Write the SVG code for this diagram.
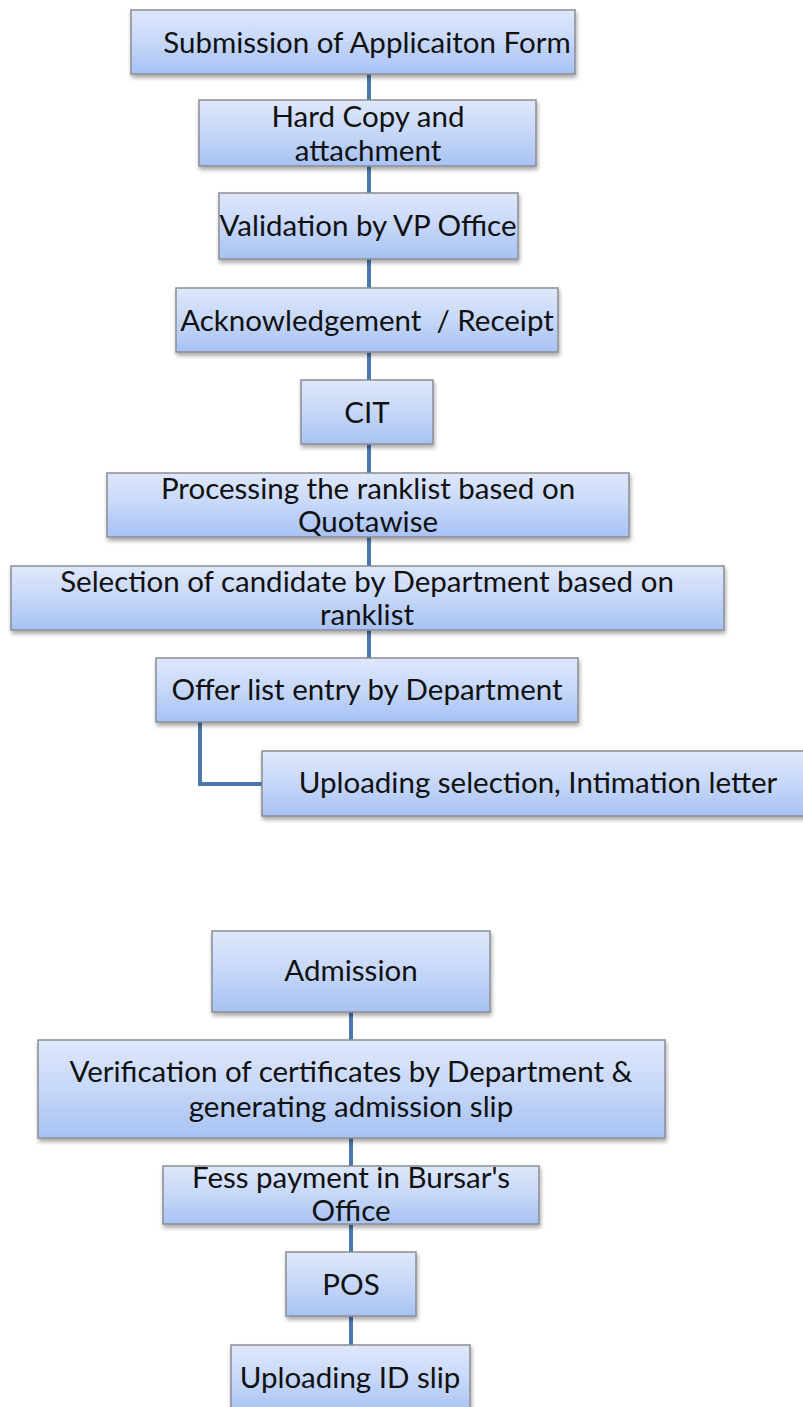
<svg xmlns="http://www.w3.org/2000/svg" width="803" height="1407" viewBox="0 0 803 1407">
<defs>
<linearGradient id="g" x1="0" y1="0" x2="0" y2="1">
<stop offset="0" stop-color="#dfe8fb"/>
<stop offset="0.5" stop-color="#c6d7f8"/>
<stop offset="1" stop-color="#a7c2f3"/>
</linearGradient>
<filter id="sh" x="-5%" y="-10%" width="110%" height="130%">
<feDropShadow dx="1" dy="3" stdDeviation="2" flood-color="#000" flood-opacity="0.35"/>
</filter>
</defs>
<style>
.b{fill:url(#g);stroke:#8a8d94;stroke-width:1.5;filter:url(#sh)}
.t{font-family:Lato,"Open Sans","Liberation Sans",sans-serif;font-size:29.5px;fill:#111;text-anchor:middle}
.c{fill:none;stroke:#4a77ad;stroke-width:4}
</style>
<rect width="803" height="1407" fill="#fff"/>
<g id="connectors">
<line class="c" x1="369" y1="74" x2="369" y2="380"/>
<line class="c" x1="369" y1="444" x2="369" y2="658"/>
<path class="c" d="M200 722 V784 H262"/>
<line class="c" x1="351" y1="1012" x2="351" y2="1345"/>
</g>
<g id="n1"><rect class="b" x="131" y="10" width="444" height="64"/><text class="t" x="367" y="53">Submission of Applicaiton Form</text></g>
<g id="n2"><rect class="b" x="199" y="100" width="337" height="66"/><text class="t" x="368" y="127">Hard Copy and</text><text class="t" x="368" y="161">attachment</text></g>
<g id="n3"><rect class="b" x="219" y="193" width="299" height="66"/><text class="t" x="368" y="236">Validation by VP Office</text></g>
<g id="n4"><rect class="b" x="176" y="288" width="382" height="64"/><text class="t" x="367" y="331" xml:space="preserve">Acknowledgement  / Receipt</text></g>
<g id="n5"><rect class="b" x="301" y="380" width="132" height="64"/><text class="t" x="367" y="423">CIT</text></g>
<g id="n6"><rect class="b" x="107" y="473" width="522" height="64"/><text class="t" x="368" y="499">Processing the ranklist based on</text><text class="t" x="368" y="532">Quotawise</text></g>
<g id="n7"><rect class="b" x="11" y="566" width="713" height="64"/><text class="t" x="367" y="592">Selection of candidate by Department based on</text><text class="t" x="367" y="625">ranklist</text></g>
<g id="n8"><rect class="b" x="156" y="658" width="422" height="64"/><text class="t" x="367" y="700">Offer list entry by Department</text></g>
<g id="n9"><rect class="b" x="262" y="751" width="545" height="65"/><text class="t" x="538" y="793">Uploading selection, Intimation letter</text></g>
<g id="n10"><rect class="b" x="212" y="931" width="278" height="81"/><text class="t" x="351" y="981">Admission</text></g>
<g id="n11"><rect class="b" x="38" y="1040" width="627" height="98"/><text class="t" x="351" y="1082">Verification of certificates by Department &amp;</text><text class="t" x="351" y="1117">generating admission slip</text></g>
<g id="n12"><rect class="b" x="163" y="1166" width="376" height="58"/><text class="t" x="351" y="1188">Fess payment in Bursar's</text><text class="t" x="351" y="1221">Office</text></g>
<g id="n13"><rect class="b" x="286" y="1252" width="130" height="64"/><text class="t" x="351" y="1295">POS</text></g>
<g id="n14"><rect class="b" x="231" y="1345" width="239" height="70"/><text class="t" x="350" y="1388">Uploading ID slip</text></g>
</svg>
